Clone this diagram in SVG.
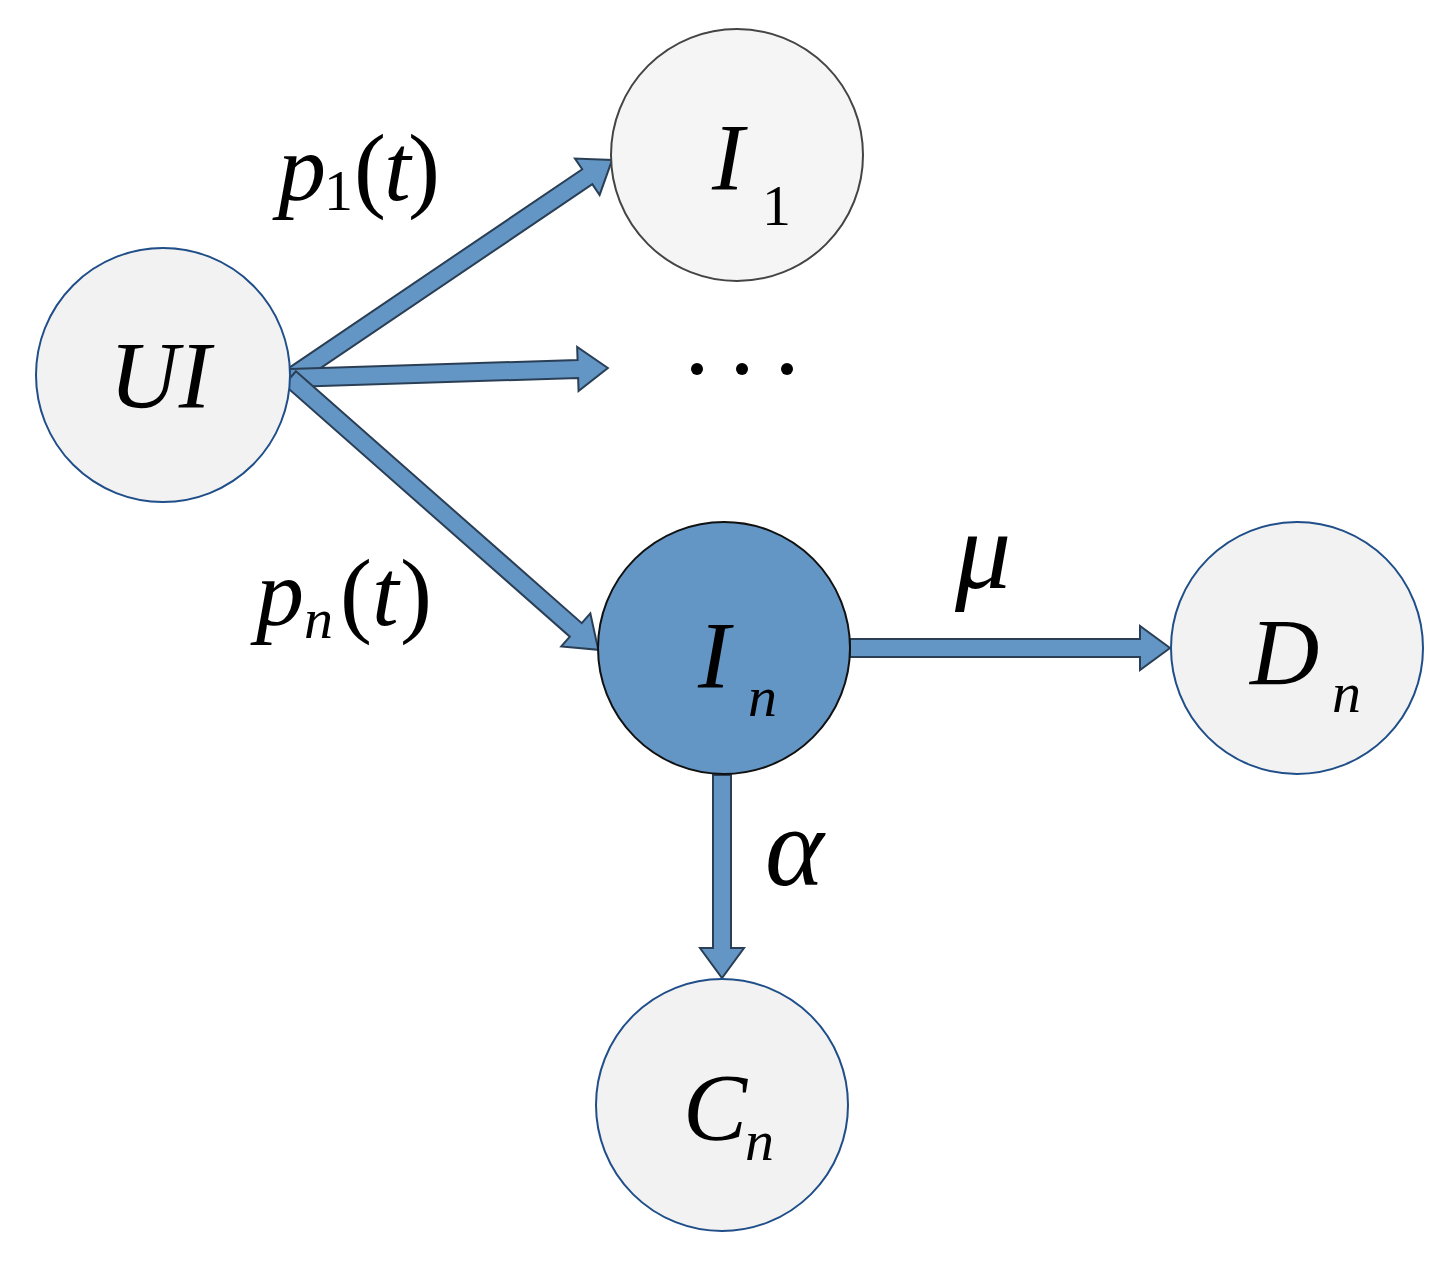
<svg xmlns="http://www.w3.org/2000/svg" width="1456" height="1270" viewBox="0 0 1456 1270">
<style>
.n{fill:#f2f2f2;stroke:#1f4e89;stroke-width:2}
.a{fill:#6396c4;stroke:#2a3f55;stroke-width:2}
text{font-family:"Liberation Serif",serif;font-style:italic;fill:#000}
.b{font-size:96px}
.s{font-size:58px}
.g{font-size:112px}
.u{font-style:normal}
</style>
<rect width="1456" height="1270" fill="#fff"/>
<g id="connectors">
<polygon class="a" transform="translate(290,378) rotate(-34.1)" points="0,-9 359,-9 359,-22 389,0 359,22 359,9 0,9"/>
<polygon class="a" transform="translate(290,378) rotate(-1.8)" points="0,-9 288,-9 288,-22 318,0 288,22 288,9 0,9"/>
<polygon class="a" transform="translate(290,378) rotate(41.4)" points="0,-9 381,-9 381,-22 411,0 381,22 381,9 0,9"/>
<polygon class="a" transform="translate(850,648)" points="0,-9 290,-9 290,-22 320,0 290,22 290,9 0,9"/>
<polygon class="a" transform="translate(722,775) rotate(90)" points="0,-9 173,-9 173,-22 203,0 173,22 173,9 0,9"/>
</g>
<g id="UI"><circle class="n" cx="163" cy="375" r="127"/><text class="b" x="160" y="408" text-anchor="middle">UI</text></g>
<g id="I1"><circle class="n" cx="737" cy="155" r="126" style="stroke:#444;fill:#f5f5f5"/><text class="b" x="712" y="190">I</text><text class="s u" x="762" y="225">1</text></g>
<g id="dots"><circle cx="697" cy="369" r="6"/><circle cx="742" cy="369" r="6"/><circle cx="787" cy="369" r="6"/></g>
<g id="In"><circle cx="724" cy="648" r="126" fill="#6396c4" stroke="#111" stroke-width="2"/><text class="b" x="698" y="688">I</text><text class="s" x="748" y="716">n</text></g>
<g id="Dn"><circle class="n" cx="1297" cy="648" r="126"/><text class="b" x="1250" y="685">D</text><text class="s" x="1332" y="712">n</text></g>
<g id="Cn"><circle class="n" cx="722" cy="1105" r="126"/><text class="b" x="683" y="1140">C</text><text class="s" x="745" y="1160">n</text></g>
<g id="labels">
<text class="b" x="278" y="200">p</text><text class="s u" x="324" y="210">1</text><text class="b u" x="354" y="200">(</text><text class="b" x="384" y="200">t</text><text class="b u" x="408" y="200">)</text>
<text class="b" x="256" y="625">p</text><text class="s" x="304" y="638">n</text><text class="b u" x="340" y="625">(</text><text class="b" x="372" y="625">t</text><text class="b u" x="400" y="625">)</text>
<text class="g" x="955" y="588">μ</text>
<text class="g" x="765" y="885">α</text>
</g>
</svg>
